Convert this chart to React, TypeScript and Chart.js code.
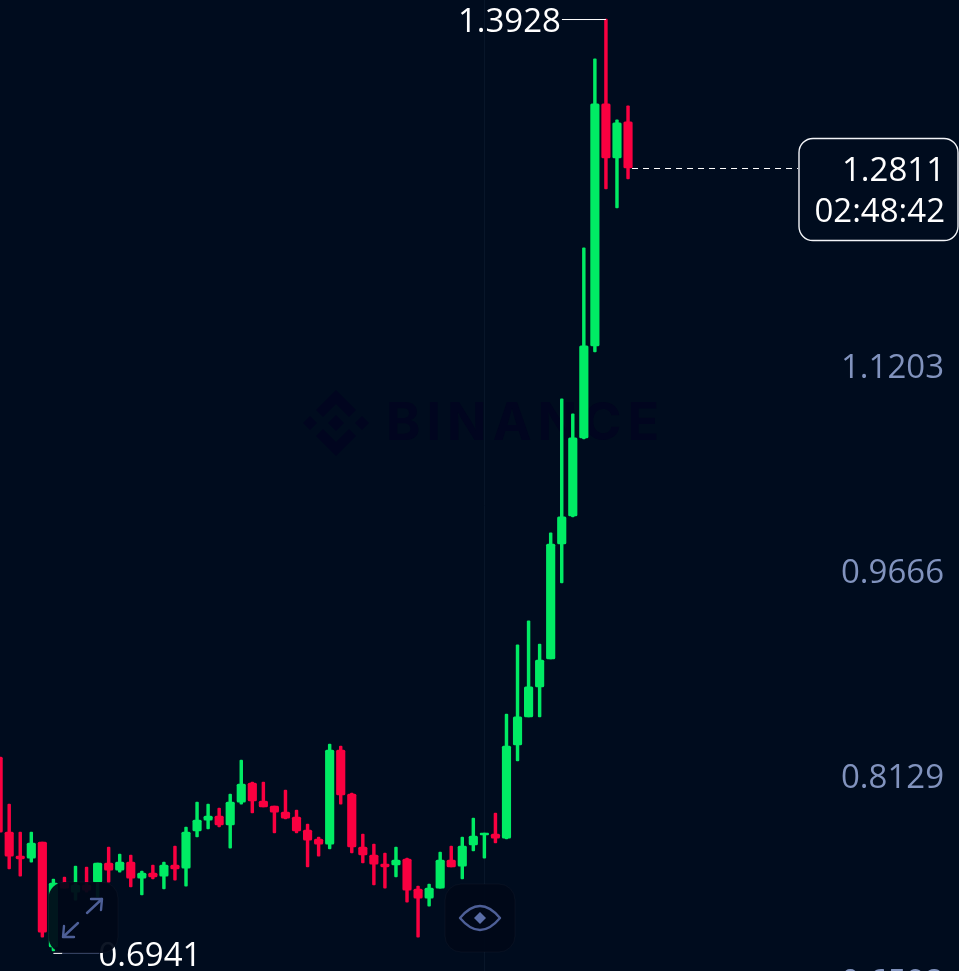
import React, { useEffect, useRef } from "react";
import { Chart, registerables } from "chart.js";

Chart.register(...registerables);

const opens = [0.8395,0.7832,0.7652,0.7637,0.7757,0.6970,0.7450,0.7382,0.7435,0.7457,0.7600,0.7547,0.7607,0.7487,0.7525,0.7502,0.7585,0.7562,0.7840,0.7922,0.7952,0.7885,0.8057,0.8200,0.8065,0.8027,0.7982,0.7945,0.7847,0.7780,0.7742,0.8447,0.8117,0.7720,0.7660,0.7592,0.7585,0.7630,0.7405,0.7337,0.7412,0.7622,0.7577,0.7735,0.7810,0.7817,0.7787,0.8485,0.8695,0.8920,0.9130,0.9992,1.0202,1.0787,1.1477,1.3292,1.2887,1.3157];
const highs = [0.8395,0.8042,0.7832,0.7832,0.7757,0.7480,0.7495,0.7577,0.7570,0.7600,0.7720,0.7667,0.7660,0.7540,0.7585,0.7607,0.7727,0.7870,0.8057,0.8042,0.8012,0.8117,0.8372,0.8207,0.8207,0.8027,0.8147,0.7997,0.7892,0.7795,0.8492,0.8477,0.8125,0.7817,0.7742,0.7675,0.7720,0.7637,0.7427,0.7442,0.7682,0.7727,0.7795,0.7937,0.7825,0.7975,0.8717,0.9235,0.9415,0.9242,1.0075,1.1080,1.0967,1.2212,1.3630,1.3928,1.3172,1.3277];
const lows = [0.7832,0.7555,0.7502,0.7607,0.7044,0.6941,0.7412,0.7322,0.7382,0.7345,0.7457,0.7532,0.7420,0.7360,0.7480,0.7405,0.7472,0.7427,0.7795,0.7855,0.7870,0.7712,0.8042,0.7975,0.8020,0.7825,0.7930,0.7825,0.7570,0.7652,0.7705,0.8042,0.7675,0.7600,0.7435,0.7412,0.7495,0.7307,0.7044,0.7277,0.7412,0.7570,0.7480,0.7690,0.7637,0.7750,0.7780,0.8365,0.8695,0.8695,0.9130,0.9700,1.0195,1.0780,1.1432,1.2655,1.2512,1.2730];
const closes = [0.7832,0.7652,0.7630,0.7750,0.7082,0.7450,0.7412,0.7435,0.7397,0.7600,0.7547,0.7607,0.7487,0.7525,0.7495,0.7585,0.7555,0.7832,0.7922,0.7952,0.7885,0.8057,0.8192,0.8065,0.8020,0.7982,0.7937,0.7840,0.7772,0.7742,0.8447,0.8110,0.7720,0.7660,0.7592,0.7570,0.7622,0.7397,0.7337,0.7412,0.7622,0.7570,0.7727,0.7802,0.7825,0.7787,0.8477,0.8695,0.8920,0.9122,0.9992,1.0195,1.0787,1.1477,1.3292,1.2887,1.3150,1.2811];
const yTickValues = [1.1203, 0.9666, 0.8129, 0.6592];
const lastPrice = 1.2811;
const countdown = "02:48:42";
const markedCandle = 44;

const BG = "#000C1E";
const GREEN = "#00EB64";
const RED = "#FA0040";
const FONT = "Open Sans";

const colorsFor = () => opens.map((o, i) => (closes[i] >= o ? GREEN : RED));

const overlay = {
  id: "overlay",
  beforeDraw(chart: any) {
    const { ctx, width, height } = chart;
    ctx.save();
    ctx.fillStyle = BG;
    ctx.fillRect(0, 0, width, height);
    // watermark
    const wm = "#01051F";
    ctx.fillStyle = wm;
    const diamond = (cx: number, cy: number, r: number) => {
      ctx.beginPath();
      ctx.moveTo(cx, cy - r);
      ctx.lineTo(cx + r, cy);
      ctx.lineTo(cx, cy + r);
      ctx.lineTo(cx - r, cy);
      ctx.closePath();
      ctx.fill();
    };
    const chevron = (cx: number, cy: number, dir: number) => {
      ctx.beginPath();
      ctx.moveTo(cx, cy);
      ctx.lineTo(cx + 20, cy + dir * 20);
      ctx.lineTo(cx + 13, cy + dir * 27);
      ctx.lineTo(cx, cy + dir * 14);
      ctx.lineTo(cx - 13, cy + dir * 27);
      ctx.lineTo(cx - 20, cy + dir * 20);
      ctx.closePath();
      ctx.fill();
    };
    diamond(336, 423, 8);
    diamond(310, 423, 7);
    diamond(362, 423, 7);
    chevron(336, 390, 1);
    chevron(336, 456, -1);
    ctx.font = `700 52px Inter`;
    ctx.textAlign = "left";
    ctx.textBaseline = "middle";
    (ctx as any).letterSpacing = "6px";
    ctx.fillText("BINANCE", 386, 424);
    (ctx as any).letterSpacing = "0px";
    ctx.restore();
  },
  afterDraw(chart: any) {
    const { ctx, scales } = chart;
    const xs = scales.x;
    const ys = scales.y;
    ctx.save();
    ctx.font = `400 33px ${FONT}`;
    ctx.textBaseline = "middle";

    // highest marker
    const hiIdx = highs.indexOf(Math.max(...highs));
    const hx = xs.getPixelForValue(hiIdx);
    const hy = ys.getPixelForValue(highs[hiIdx]);
    ctx.strokeStyle = "#FFFFFF";
    ctx.lineWidth = 1;
    ctx.beginPath();
    ctx.moveTo(hx, hy + 0.5);
    ctx.lineTo(hx - 44, hy + 0.5);
    ctx.stroke();
    ctx.fillStyle = "#FFFFFF";
    ctx.textAlign = "right";
    ctx.fillText(highs[hiIdx].toFixed(4), hx - 45, hy + 4);

    // lowest marker
    const loIdx = lows.indexOf(Math.min(...lows));
    const lx = xs.getPixelForValue(loIdx);
    const ly = ys.getPixelForValue(lows[loIdx]) + 2;
    ctx.textAlign = "left";
    ctx.fillText(lows[loIdx].toFixed(4), lx + 45, ly + 4);

    // buttons
    const button = (x: number, y: number, w: number, h: number) => {
      ctx.beginPath();
      ctx.roundRect(x, y, w, h, 16);
      ctx.fillStyle = "rgba(0,8,24,0.94)";
      ctx.fill();
      ctx.strokeStyle = "rgba(255,255,255,0.03)";
      ctx.lineWidth = 1;
      ctx.stroke();
    };
    button(48.5, 882, 69.5, 71);
    button(445, 884, 70, 68);

    // low marker line: bright beyond the button corner, dimmed beside it
    ctx.lineWidth = 1;
    ctx.strokeStyle = "#FFFFFF";
    ctx.beginPath();
    ctx.moveTo(lx, ly + 0.5);
    ctx.lineTo(lx + 9, ly + 0.5);
    ctx.stroke();
    ctx.strokeStyle = "#3B4868";
    ctx.beginPath();
    ctx.moveTo(lx + 9, ly + 0.5);
    ctx.lineTo(lx + 46, ly + 0.5);
    ctx.stroke();

    // expand icon
    ctx.strokeStyle = "#4D5F97";
    ctx.lineWidth = 2.4;
    ctx.lineCap = "round";
    ctx.lineJoin = "round";
    ctx.beginPath();
    ctx.moveTo(87, 913);
    ctx.lineTo(102, 899);
    ctx.moveTo(91, 899);
    ctx.lineTo(102, 899);
    ctx.lineTo(101, 910);
    ctx.moveTo(78, 923);
    ctx.lineTo(63, 937);
    ctx.moveTo(64, 926);
    ctx.lineTo(63, 937);
    ctx.lineTo(74, 937);
    ctx.stroke();

    // eye icon
    ctx.strokeStyle = "#4D5F97";
    ctx.lineWidth = 2.4;
    ctx.beginPath();
    ctx.moveTo(460, 918);
    ctx.quadraticCurveTo(480, 894, 500, 918);
    ctx.quadraticCurveTo(480, 942, 460, 918);
    ctx.closePath();
    ctx.stroke();
    ctx.fillStyle = "#5A6EA8";
    ctx.beginPath();
    ctx.moveTo(480, 912);
    ctx.lineTo(486, 918);
    ctx.lineTo(480, 924);
    ctx.lineTo(474, 918);
    ctx.closePath();
    ctx.fill();

    // last price line
    const py = Math.round(ys.getPixelForValue(lastPrice)) + 0.5;
    const last = opens.length - 1;
    ctx.strokeStyle = "#FFFFFF";
    ctx.lineWidth = 1;
    ctx.lineCap = "butt";
    ctx.setLineDash([6, 5]);
    ctx.beginPath();
    ctx.moveTo(xs.getPixelForValue(last) + 4, py);
    ctx.lineTo(798, py);
    ctx.stroke();
    ctx.setLineDash([]);

    // last price box
    ctx.beginPath();
    ctx.roundRect(799, 138.5, 159, 102, 14);
    ctx.fillStyle = BG;
    ctx.fill();
    ctx.strokeStyle = "#F2F4F8";
    ctx.lineWidth = 1.4;
    ctx.stroke();
    ctx.fillStyle = "#FFFFFF";
    ctx.textAlign = "right";
    ctx.fillText(lastPrice.toFixed(4), 945, 172);
    ctx.fillText(countdown, 945, 213);
    ctx.restore();
  },
};

const zeroFit = (axis: any) => {
  axis.paddingTop = 0;
  axis.paddingBottom = 0;
  axis.paddingLeft = 0;
  axis.paddingRight = 0;
  if (axis.axis === "y") axis.width = 0;
  else axis.height = 0;
};

export default function App() {
  const ref = useRef<HTMLCanvasElement>(null);
  useEffect(() => {
    const colors = colorsFor();
    const chart = new Chart(ref.current as HTMLCanvasElement, {
      type: "bar",
      data: {
        datasets: [
          {
            label: "body",
            data: opens.map((o, i) => ({ x: i, y: [o, closes[i]] })),
            backgroundColor: colors,
            barThickness: 8.5,
            borderRadius: 1.5,
            borderSkipped: false,
            grouped: false,
            order: 1,
          },
          {
            label: "wick",
            data: opens.map((_, i) => ({ x: i, y: [lows[i], highs[i]] })),
            backgroundColor: colors,
            barThickness: 2.8,
            borderRadius: 1,
            borderSkipped: false,
            grouped: false,
            order: 2,
          },
        ],
      },
      options: {
        animation: false,
        responsive: false,
        events: [],
        layout: { padding: 0 },
        plugins: { legend: { display: false }, tooltip: { enabled: false } },
        scales: {
          x: {
            type: "linear",
            min: 0.1674,
            max: 86.95,
            offset: false,
            border: { display: false },
            grid: { offset: false, drawTicks: false, color: "#081629", lineWidth: 1 },
            ticks: { display: false },
            afterBuildTicks: (axis: any) => {
              axis.ticks = [{ value: markedCandle }];
            },
            afterFit: zeroFit,
          },
          y: {
            type: "linear",
            position: "right",
            min: 0.64903,
            max: 1.40706,
            border: { display: false },
            grid: { display: false, drawTicks: false },
            ticks: {
              mirror: true,
              padding: -15,
              labelOffset: -14,
              color: "#8193BE",
              font: { family: FONT, size: 33, weight: "400" },
              autoSkip: false,
              callback: (v: any) => Number(v).toFixed(4),
            },
            afterBuildTicks: (axis: any) => {
              axis.ticks = yTickValues.map((value) => ({ value }));
            },
            afterFit: zeroFit,
          },
        },
      } as any,
      plugins: [overlay],
    });
    return () => chart.destroy();
  }, []);
  return (
    <div style={{ position: "fixed", left: 0, top: 0, width: 959, height: 971, overflow: "hidden", background: BG }}>
      <canvas ref={ref} width={959} height={1011} style={{ display: "block" }} />
    </div>
  );
}
